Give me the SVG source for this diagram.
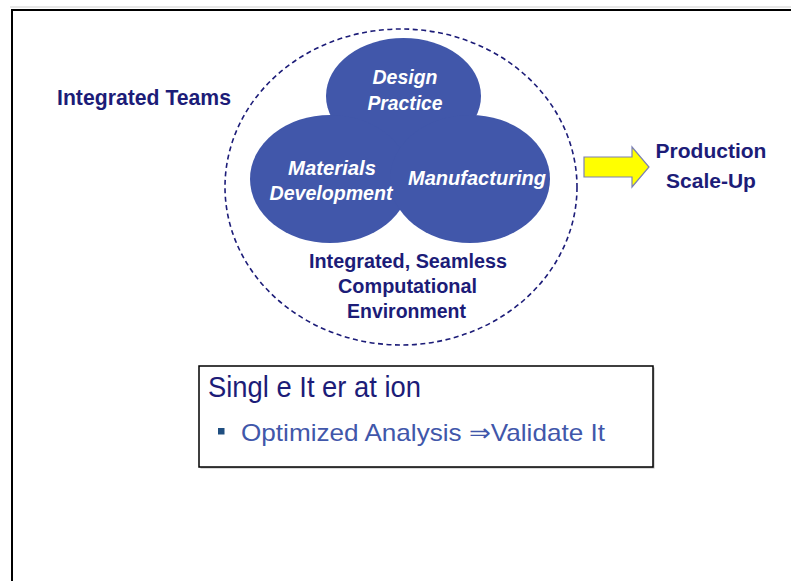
<svg xmlns="http://www.w3.org/2000/svg" width="791" height="581" viewBox="0 0 791 581">
<style>
.team{fill:#4157aa}
.wt{font-family:"Liberation Sans",Arial,sans-serif;font-weight:bold;font-style:italic;fill:#ffffff;font-size:20px;text-anchor:middle}
.nv{font-family:"Liberation Sans",Arial,sans-serif;font-weight:bold;fill:#1c1c78;text-anchor:middle}
</style>
<rect width="791" height="581" fill="#ffffff"/>
<line x1="10" y1="7" x2="791" y2="7" stroke="#cfcfcf" stroke-width="1"/>
<rect x="12" y="10" width="800" height="600" fill="none" stroke="#000" stroke-width="2"/>
<g id="environment">
<ellipse cx="401" cy="187" rx="176" ry="158" fill="none" stroke="#1c1c78" stroke-width="1.6" stroke-dasharray="5,3.5"/>
<text class="nv" font-size="19.5" x="408" y="268" textLength="198" lengthAdjust="spacingAndGlyphs">Integrated, Seamless</text>
<text class="nv" font-size="19.5" x="407.5" y="293" textLength="139" lengthAdjust="spacingAndGlyphs">Computational</text>
<text class="nv" font-size="19.5" x="406.5" y="318" textLength="119" lengthAdjust="spacingAndGlyphs">Environment</text>
</g>
<g id="design">
<ellipse class="team" cx="403.5" cy="96" rx="77.5" ry="58"/>
</g>
<g id="materials">
<ellipse class="team" cx="330" cy="179" rx="80" ry="64"/>
</g>
<g id="manufacturing">
<ellipse class="team" cx="470" cy="179" rx="80" ry="64"/>
</g>
<g id="labels">
<text class="wt" x="405" y="84" textLength="65" lengthAdjust="spacingAndGlyphs">Design</text>
<text class="wt" x="405" y="110" textLength="75" lengthAdjust="spacingAndGlyphs">Practice</text>
<text class="wt" x="332" y="175" textLength="88" lengthAdjust="spacingAndGlyphs">Materials</text>
<text class="wt" x="331" y="200" textLength="123" lengthAdjust="spacingAndGlyphs">Development</text>
<text class="wt" x="477" y="185" textLength="138" lengthAdjust="spacingAndGlyphs">Manufacturing</text>
</g>
<g id="teams">
<text class="nv" font-size="21.5" x="144" y="105" textLength="174" lengthAdjust="spacingAndGlyphs">Integrated Teams</text>
</g>
<g id="connectors">
<polygon points="584,157 632,157 632,147 649,167 632,187 632,177 584,177" fill="#ffff00" stroke="#7c80b4" stroke-width="1.2"/>
</g>
<g id="production">
<text class="nv" font-size="21" x="711" y="158">Production</text>
<text class="nv" font-size="21" x="711" y="188">Scale-Up</text>
</g>
<g id="iteration">
<rect x="200.5" y="367.5" width="454" height="101" fill="#b5b5b5"/>
<rect x="199" y="366" width="454" height="101" fill="#ffffff" stroke="#000" stroke-width="1.5"/>
<text x="208" y="397" font-family="'Liberation Sans',Arial,sans-serif" font-size="29" fill="#1c1c78" textLength="213" lengthAdjust="spacingAndGlyphs">Singl e It er at ion</text>
<rect x="218" y="428" width="6.5" height="6.5" fill="#1f4e80"/>
<text x="241" y="441" font-family="'Liberation Sans',Arial,'DejaVu Sans',sans-serif" font-size="24" fill="#4157aa" textLength="364" lengthAdjust="spacingAndGlyphs">Optimized Analysis ⇒Validate It</text>
</g>
</svg>
